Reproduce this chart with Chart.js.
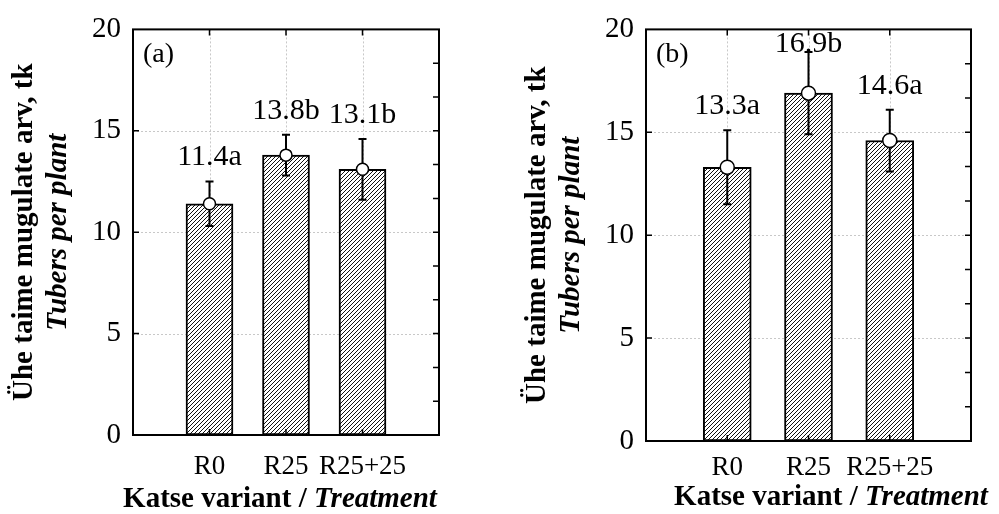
<!DOCTYPE html>
<html>
<head>
<meta charset="utf-8">
<script src="https://cdn.jsdelivr.net/npm/chart.js@4.4.1/dist/chart.umd.min.js"></script>
<style>
  html, body { margin: 0; padding: 0; background: #fff; }
  #wrap { position: relative; width: 999px; height: 514px; overflow: hidden; }
  canvas { position: absolute; top: 0; }
</style>
</head>
<body>
<div id="wrap">
  <canvas id="chartA" width="500" height="514" style="left:0"></canvas>
  <canvas id="chartB" width="499" height="514" style="left:500px"></canvas>
</div>
<script>
// categories (empty slots at both ends keep the bars off the frame)
const categories = ["", "R0", "R25", "R25+25", ""];
const yTicks = [0, 5, 10, 15, 20];

// panel (a)
const meansA = [null, 11.4, 13.8, 13.1, null];
const errA = [null, 1.1, 1.0, 1.5, null];
const lettersA = [null, "11.4a", "13.8b", "13.1b", null];

// panel (b)
const meansB = [null, 13.3, 16.9, 14.6, null];
const errB = [null, 1.8, 2.0, 1.5, null];
const lettersB = [null, "13.3a", "16.9b", "14.6a", null];

const SERIF = "'Liberation Serif', 'Times New Roman', serif";

function hatch() {
  const c = document.createElement("canvas");
  c.width = 4; c.height = 4;
  const g = c.getContext("2d");
  g.fillStyle = "#fff";
  g.fillRect(0, 0, 4, 4);
  g.strokeStyle = "#111";
  g.lineWidth = 1;
  g.beginPath();
  g.moveTo(0, 4); g.lineTo(4, 0);
  g.moveTo(-1, 1); g.lineTo(1, -1);
  g.moveTo(3, 5); g.lineTo(5, 3);
  g.stroke();
  return g.createPattern(c, "repeat");
}

function makePanel(p) {
  // draws grid, frame, inward ticks, error bars and all the texts
  const plugin = {
    id: "panel" + p.label,
    beforeDatasetsDraw(chart) {
      const { ctx, chartArea: a, scales: { x, y } } = chart;
      ctx.save();
      ctx.strokeStyle = "#c8c8c8";
      ctx.lineWidth = 1;
      ctx.setLineDash([2, 2]);
      yTicks.slice(1, -1).forEach(v => {
        const py = Math.round(y.getPixelForValue(v)) + 0.5;
        ctx.beginPath(); ctx.moveTo(a.left, py); ctx.lineTo(a.right, py); ctx.stroke();
      });
      categories.forEach((c, i) => {
        if (!c) return;
        const px = Math.round(x.getPixelForValue(i)) + 0.5;
        ctx.beginPath(); ctx.moveTo(px, a.top); ctx.lineTo(px, a.bottom); ctx.stroke();
      });
      ctx.restore();
    },
    afterDatasetDraw(chart, args) {
      if (args.index !== 0) return;
      const { ctx, scales: { x, y } } = chart;
      ctx.save();
      ctx.strokeStyle = "#000";
      ctx.lineWidth = 2;
      p.means.forEach((m, i) => {
        if (m == null) return;
        const px = x.getPixelForValue(i);
        const t = y.getPixelForValue(m + p.errs[i]);
        const b = y.getPixelForValue(m - p.errs[i]);
        ctx.beginPath();
        ctx.moveTo(px, t); ctx.lineTo(px, b);
        ctx.moveTo(px - 4, t); ctx.lineTo(px + 4, t);
        ctx.moveTo(px - 4, b); ctx.lineTo(px + 4, b);
        ctx.stroke();
      });
      ctx.restore();
    },
    afterDraw(chart) {
      const { ctx, chartArea: a, scales: { x, y } } = chart;
      ctx.save();
      // frame
      ctx.strokeStyle = "#000";
      ctx.lineWidth = 2;
      ctx.strokeRect(a.left, a.top, a.right - a.left, a.bottom - a.top);
      // inward ticks
      ctx.lineWidth = 1.5;
      ctx.beginPath();
      yTicks.slice(1, -1).forEach(v => {
        const py = y.getPixelForValue(v);
        ctx.moveTo(a.left, py); ctx.lineTo(a.left + 6, py);
      });
      for (let k = 1; k < 12; k++) {
        const py = y.getPixelForValue(k * 20 / 12);
        ctx.moveTo(a.right, py); ctx.lineTo(a.right - 6, py);
      }
      categories.forEach((c, i) => {
        if (!c) return;
        const px = x.getPixelForValue(i);
        ctx.moveTo(px, a.top); ctx.lineTo(px, a.top + 6);
        ctx.moveTo(px, a.bottom); ctx.lineTo(px, a.bottom - 6);
      });
      ctx.stroke();

      ctx.fillStyle = "#000";
      ctx.textBaseline = "middle";
      // value labels with letters
      ctx.textAlign = "center";
      ctx.font = "30px " + SERIF;
      p.letters.forEach((t, i) => {
        if (!t) return;
        const px = x.getPixelForValue(i);
        const py = Math.max(y.getPixelForValue(p.means[i] + p.errs[i]) - 24, a.top + 15);
        ctx.fillText(t, px, py);
      });
      // panel label
      ctx.textAlign = "left";
      ctx.font = "28px " + SERIF;
      ctx.fillText(p.label, a.left + 10, a.top + 25);
      // x title: bold + bold italic
      const t1 = "Katse variant / ", t2 = "Treatment";
      ctx.font = "bold 29px " + SERIF;
      const w1 = ctx.measureText(t1).width;
      ctx.font = "italic bold 29px " + SERIF;
      const w2 = ctx.measureText(t2).width;
      let sx = p.titleX - (w1 + w2) / 2;
      ctx.font = "bold 29px " + SERIF;
      ctx.fillText(t1, sx, p.titleY);
      ctx.font = "italic bold 29px " + SERIF;
      ctx.fillText(t2, sx + w1, p.titleY);
      // y title, two lines
      const cy = (a.top + a.bottom) / 2;
      ctx.textAlign = "center";
      ctx.save();
      ctx.translate(p.yTitleX1, cy);
      ctx.rotate(-Math.PI / 2);
      ctx.font = "bold 29px " + SERIF;
      ctx.fillText("Ühe taime mugulate arv, tk", 0, 0);
      ctx.restore();
      ctx.save();
      ctx.translate(p.yTitleX2, cy);
      ctx.rotate(-Math.PI / 2);
      ctx.font = "italic bold 29px " + SERIF;
      ctx.fillText("Tubers per plant", 0, 0);
      ctx.restore();
      ctx.restore();
    }
  };

  return new Chart(document.getElementById(p.canvas), {
    data: {
      labels: categories,
      datasets: [
        {
          type: "bar",
          data: p.means,
          backgroundColor: hatch(),
          borderColor: "#000",
          borderWidth: 2,
          borderSkipped: false,
          barThickness: p.barW,
          order: 2
        },
        {
          type: "line",
          data: p.means,
          showLine: false,
          pointRadius: p.dotR,
          pointBackgroundColor: "#fff",
          pointBorderColor: "#000",
          pointBorderWidth: 1.5,
          order: 1
        }
      ]
    },
    options: {
      responsive: false,
      animation: false,
      layout: { padding: { top: 22, right: p.padRight, left: 0, bottom: 0 } },
      plugins: { legend: { display: false }, tooltip: { enabled: false } },
      scales: {
        x: {
          type: "category",
          offset: false,
          grid: { display: false, drawTicks: false },
          border: { display: false },
          ticks: {
            autoSkip: false, maxRotation: 0, padding: p.xPad,
            color: "#000", font: { family: SERIF, size: 27 }
          },
          afterFit: s => { s.height = p.xH; }
        },
        y: {
          min: 0, max: 20,
          grid: { display: false, drawTicks: false },
          border: { display: false },
          ticks: {
            stepSize: 5, padding: 12,
            color: "#000", font: { family: SERIF, size: 29 }
          },
          afterFit: s => { s.width = p.yW; }
        }
      }
    },
    plugins: [plugin]
  });
}

makePanel({
  canvas: "chartA", label: "(a)",
  means: meansA, errs: errA, letters: lettersA,
  padRight: 61, yW: 133, xH: 79, xPad: 16,
  barW: 47, dotR: 6,
  titleX: 280, titleY: 500, yTitleX1: 25, yTitleX2: 59
});

makePanel({
  canvas: "chartB", label: "(b)",
  means: meansB, errs: errB, letters: lettersB,
  padRight: 28, yW: 146, xH: 73, xPad: 11,
  barW: 48, dotR: 7,
  titleX: 331, titleY: 498, yTitleX1: 38, yTitleX2: 72
});
</script>
</body>
</html>
